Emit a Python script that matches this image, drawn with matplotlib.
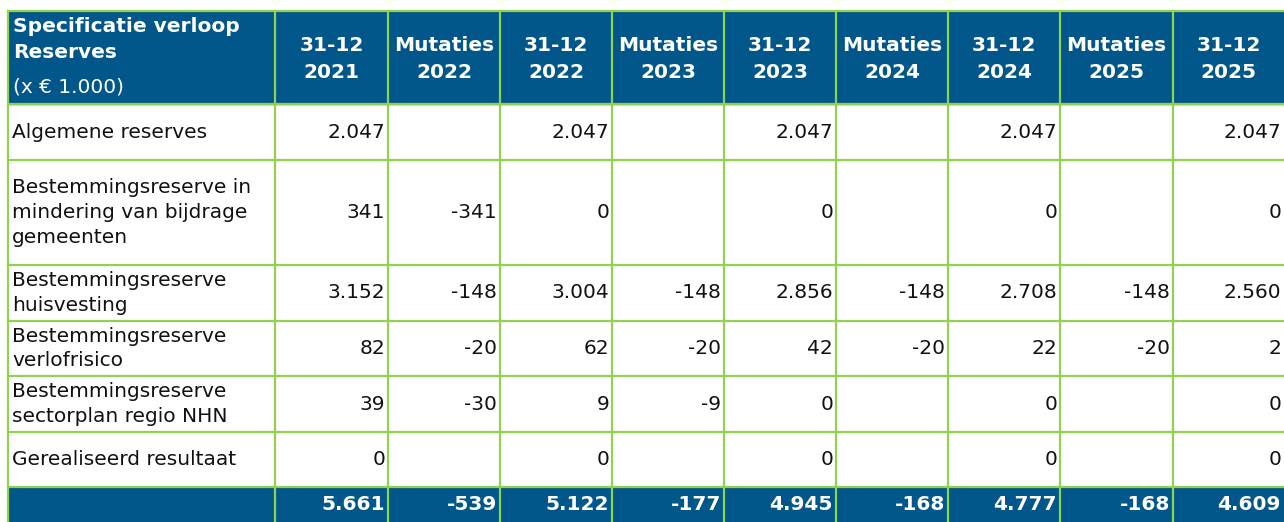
import matplotlib.pyplot as plt

# table contents
header_title = ["Specificatie verloop", "Reserves"]
header_unit = "(x € 1.000)"
col_headers = ["31-12\n2021", "Mutaties\n2022", "31-12\n2022", "Mutaties\n2023",
               "31-12\n2023", "Mutaties\n2024", "31-12\n2024", "Mutaties\n2025",
               "31-12\n2025"]
row_labels = ["Algemene reserves",
              "Bestemmingsreserve in\nmindering van bijdrage\ngemeenten",
              "Bestemmingsreserve\nhuisvesting",
              "Bestemmingsreserve\nverlofrisico",
              "Bestemmingsreserve\nsectorplan regio NHN",
              "Gerealiseerd resultaat"]
values = [
    [2047, None, 2047, None, 2047, None, 2047, None, 2047],
    [341, -341, 0, None, 0, None, 0, None, 0],
    [3152, -148, 3004, -148, 2856, -148, 2708, -148, 2560],
    [82, -20, 62, -20, 42, -20, 22, -20, 2],
    [39, -30, 9, -9, 0, None, 0, None, 0],
    [0, None, 0, None, 0, None, 0, None, 0],
]
totals = [5661, -539, 5122, -177, 4945, -168, 4777, -168, 4609]

BLUE = '#01578A'
GREEN = '#92D050'

# layout in pixels
col_x = [8, 275, 388, 500, 612, 724, 836, 948, 1060, 1173, 1284]
row_y = [11, 104, 160, 265, 321, 376, 432, 487, 530]


def fmt(v):
    if v is None:
        return ""
    return f"{v:,}".replace(",", ".")


fig = plt.figure(figsize=(12.84, 5.22), dpi=100)
ax = fig.add_axes([0, 0, 1, 1])
ax.set_xlim(0, 1284)
ax.set_ylim(522, 0)
ax.axis('off')

fs = 14.5
ls = 1.37
font = 'DejaVu Sans'
right_edge = col_x[-1] + 10

# blue header and total bands
ax.add_patch(plt.Rectangle((col_x[0], row_y[0]), right_edge - col_x[0],
                           row_y[1] - row_y[0], color=BLUE, zorder=0))
ax.add_patch(plt.Rectangle((col_x[0], row_y[-2]), right_edge - col_x[0],
                           row_y[-1] - row_y[-2], color=BLUE, zorder=0))

# grid lines
for x in col_x[:-1]:
    ax.plot([x, x], [row_y[0], row_y[-1]], color=GREEN, lw=1.6, zorder=2)
for y in row_y[:-1]:
    ax.plot([col_x[0], right_edge], [y, y], color=GREEN, lw=1.6, zorder=2)

# header
ax.text(col_x[0] + 5, 27, header_title[0], color='white', fontsize=fs,
        fontweight='bold', va='center', ha='left', family=font)
ax.text(col_x[0] + 5, 53, header_title[1], color='white', fontsize=fs,
        fontweight='bold', va='center', ha='left', family=font)
ax.text(col_x[0] + 5, 87, header_unit, color='white', fontsize=fs,
        va='center', ha='left', family=font)
for j, h in enumerate(col_headers):
    xc = (col_x[j + 1] + col_x[j + 2]) / 2
    ax.text(xc, 59, h, color='white', fontsize=fs, fontweight='bold',
            ha='center', va='center', linespacing=1.5, family=font)

# body rows
for i, lab in enumerate(row_labels):
    yc = (row_y[i + 1] + row_y[i + 2]) / 2
    ax.text(col_x[0] + 4, yc, lab, fontsize=fs, ha='left', va='center',
            linespacing=ls, color='#111111', family=font)
    for j, v in enumerate(values[i]):
        ax.text(col_x[j + 2] - 3, yc, fmt(v), fontsize=fs, ha='right',
                va='center', color='#111111', family=font)

# totals
yc = (row_y[-2] + 522) / 2
for j, v in enumerate(totals):
    ax.text(col_x[j + 2] - 3, yc, fmt(v), fontsize=fs, ha='right',
            va='center', color='white', fontweight='bold', family=font)

fig.savefig('out.png', dpi=100)
